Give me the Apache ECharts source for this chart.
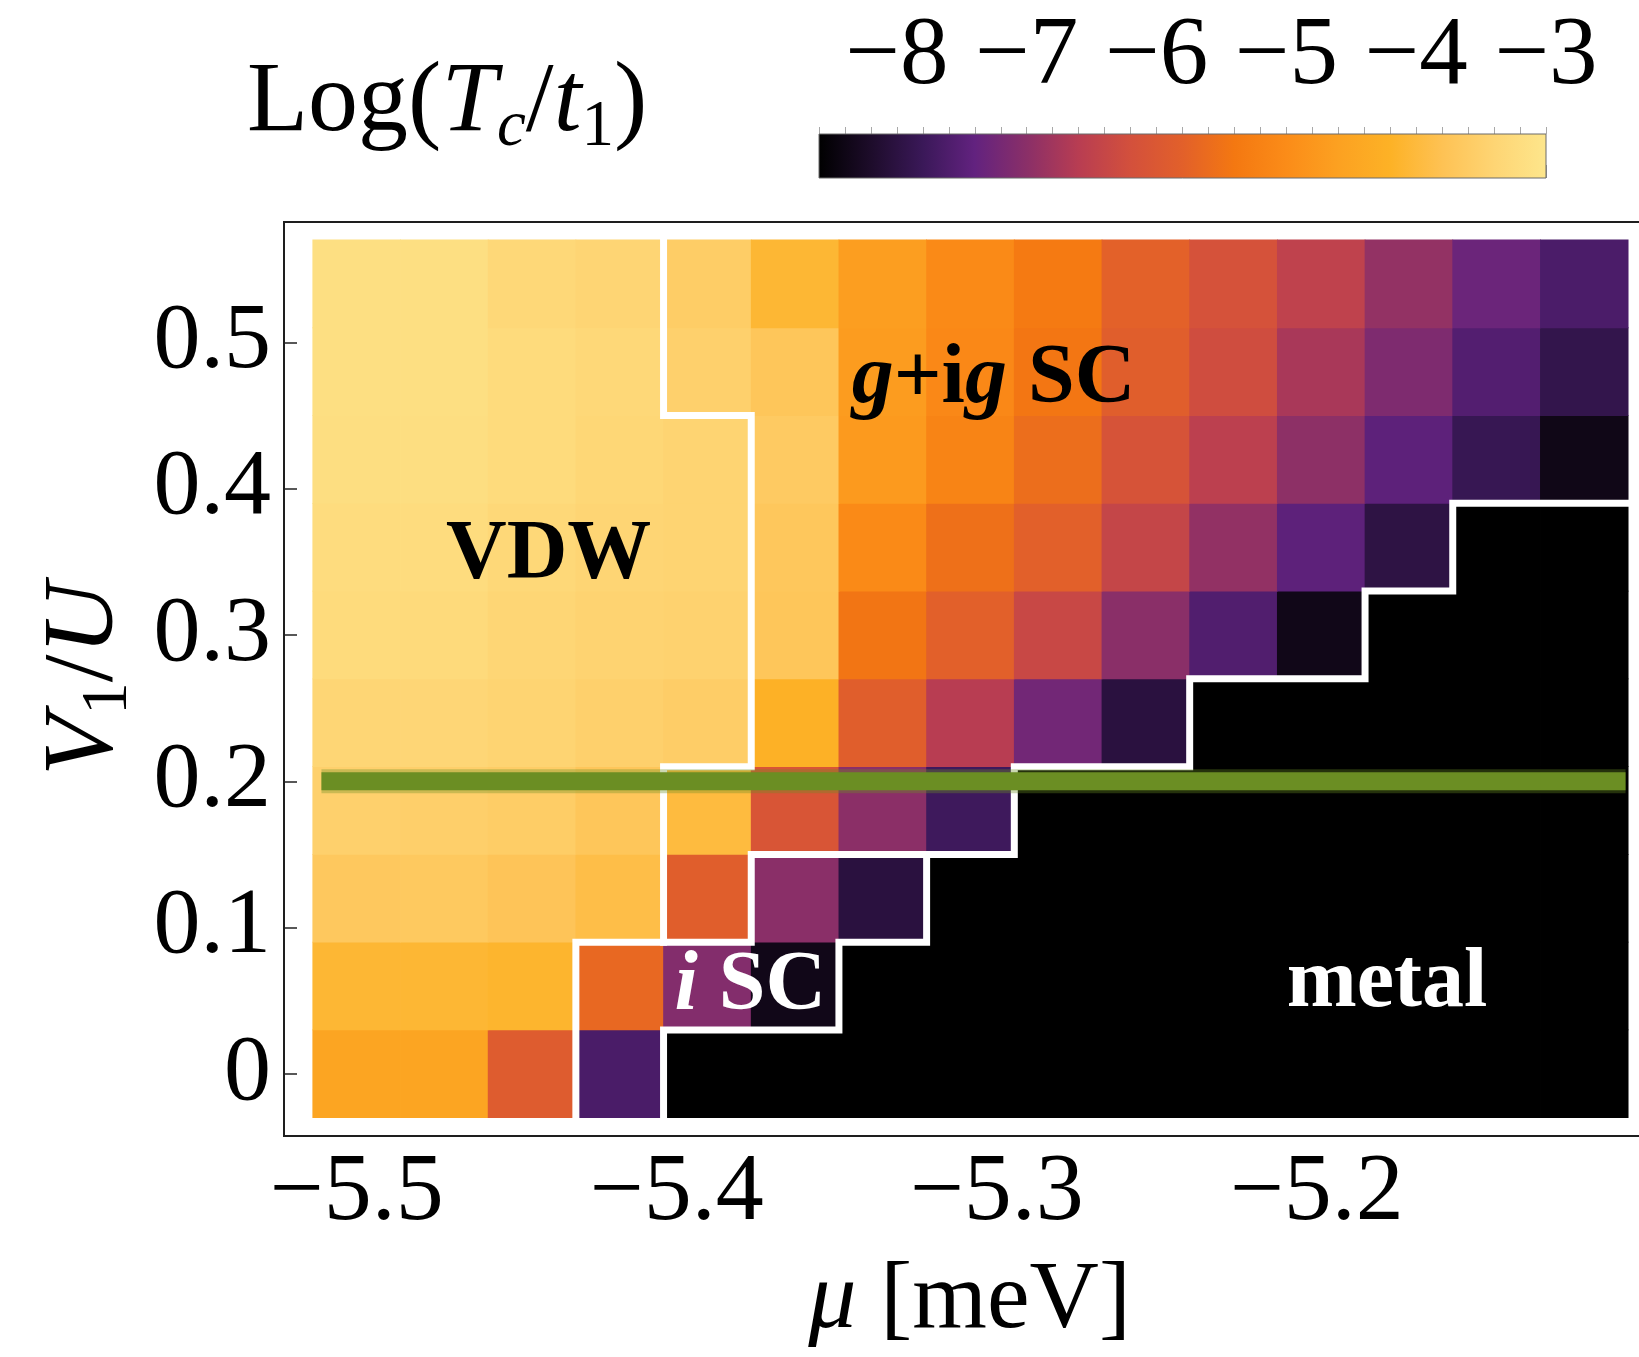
<!DOCTYPE html>
<html>
<head>
<meta charset="utf-8">
<script src="https://cdn.jsdelivr.net/npm/echarts@6/dist/echarts.min.js"></script>
<style>
  html, body { margin: 0; padding: 0; background: #ffffff; }
  #chart { width: 1639px; height: 1357px; }
</style>
</head>
<body>
<div id="chart"></div>
<script>
// ---- grid of the phase diagram ----
// chemical potential (cell centres, meV)
const mu = [-5.5, -5.4726, -5.4452, -5.4178, -5.3904, -5.363, -5.3356, -5.3082,
            -5.2808, -5.2534, -5.226, -5.1986, -5.1712, -5.1438, -5.1164];
// nearest-neighbour repulsion V1/U (cell centres)
const v1 = [0, 0.06, 0.12, 0.18, 0.24, 0.30, 0.36, 0.42, 0.48, 0.54];

// Log(Tc/t1) along mu for each V1/U; null = metal (no ordering)
const logTc_v000 = [-4.50, -4.50, -5.91, -7.64, null, null, null, null, null, null, null, null, null, null, null];
const logTc_v006 = [-4.08, -4.08, -4.13, -5.67, -7.07, -8.37, null, null, null, null, null, null, null, null, null];
const logTc_v012 = [-3.67, -3.66, -3.75, -3.90, -5.85, -7.00, -8.02, null, null, null, null, null, null, null, null];
const logTc_v018 = [-3.50, -3.52, -3.57, -3.72, -3.98, -6.07, -6.99, -7.76, null, null, null, null, null, null, null];
const logTc_v024 = [-3.38, -3.37, -3.42, -3.50, -3.56, -4.22, -5.85, -6.60, -7.24, -8.02, null, null, null, null, null];
const logTc_v030 = [-3.26, -3.28, -3.38, -3.44, -3.46, -3.72, -5.45, -5.80, -6.36, -7.00, -7.57, -8.37, null, null, null];
const logTc_v036 = [-3.24, -3.24, -3.33, -3.40, -3.42, -3.70, -5.04, -5.53, -5.80, -6.42, -6.93, -7.45, -7.97, null, null];
const logTc_v042 = [-3.19, -3.18, -3.26, -3.36, -3.42, -3.63, -4.73, -5.16, -5.57, -6.12, -6.54, -6.97, -7.45, -7.84, -8.38];
const logTc_v048 = [-3.16, -3.16, -3.26, -3.33, -3.50, -3.72, -4.70, -5.08, -5.43, -5.85, -6.26, -6.73, -7.12, -7.55, -7.90];
const logTc_v054 = [-3.16, -3.16, -3.33, -3.40, -3.57, -4.08, -4.66, -5.04, -5.36, -5.78, -6.15, -6.50, -6.92, -7.31, -7.63];
const logTcRows = [logTc_v000, logTc_v006, logTc_v012, logTc_v018, logTc_v024,
                   logTc_v030, logTc_v036, logTc_v042, logTc_v048, logTc_v054];

// phase boundaries, as [mu edge index, V1/U edge index] corners
const vdwEdge   = [[4, 10], [4, 8], [5, 8], [5, 4], [4, 4], [4, 2], [3, 2], [3, 0]];
const iscEdge   = [[4, 2], [5, 2], [5, 3], [7, 3]];
const metalEdge = [[4, 0], [4, 1], [6, 1], [6, 2], [7, 2], [7, 3], [8, 3], [8, 4], [10, 4],
                   [10, 5], [12, 5], [12, 6], [13, 6], [13, 7], [15, 7]];

// cut along V1/U = 0.2
const cutV = 0.2;
const cutMu = [-5.511, -5.1035];

// phase names and where they are written
const phaseNames = ['VDW', '{it|g}+i{it|g} SC', '{it|i} SC', 'metal'];
const phaseMu = [-5.440, -5.301, -5.377, -5.178];
const phaseV  = [0.354, 0.474, 0.059, 0.061];

// colour scale
const colorRange = [-8.6, -3];
const colorTicks = [-8, -7, -6, -5, -4, -3];
const logTcColors = ['#000000', '#1d0c2a', '#3a1858', '#62227f', '#8a2f68', '#b83d52', '#d3503c',
                     '#e2602a', '#f47811', '#fb8c18', '#fca121', '#fdb226', '#fec254', '#fed574', '#fde68c'];

// axis ticks
const muTicks = [-5.5, -5.4, -5.3, -5.2];
const vTicks = [0, 0.1, 0.2, 0.3, 0.4, 0.5];

// ---- build series data ----
const dMu = mu[1] - mu[0];
const dV = v1[1] - v1[0];
const cells = [];
const metalCells = [];
logTcRows.forEach((row, k) => {
  row.forEach((val, i) => {
    if (val === null) metalCells.push([mu[i], v1[k]]);
    else cells.push([mu[i], v1[k], val]);
  });
});
const edgeToData = path => path.map(([i, k]) => [mu[0] - dMu / 2 + i * dMu, v1[0] - dV / 2 + k * dV]);

const FONT = '"Liberation Serif", "Times New Roman", Times, serif';
const minus = s => String(s).replace('-', '\u2212');

function cellItem(params, api) {
  const x = api.value(0), y = api.value(1);
  const p0 = api.coord([x - dMu / 2, y + dV / 2]);
  const p1 = api.coord([x + dMu / 2, y - dV / 2]);
  return {
    type: 'rect',
    shape: { x: p0[0] - 0.4, y: p0[1] - 0.4, width: p1[0] - p0[0] + 0.8, height: p1[1] - p0[1] + 0.8 },
    style: { fill: api.visual('color') }
  };
}

const barGradient = new echarts.graphic.LinearGradient(0, 0, 1, 0,
  logTcColors.map((c, i) => ({ offset: i / (logTcColors.length - 1), color: c })));

function colorBarItem(params, api) {
  const p0 = api.coord([api.value(0), 1]);
  const p1 = api.coord([api.value(1), 0]);
  return {
    type: 'rect',
    shape: { x: p0[0], y: p0[1], width: p1[0] - p0[0], height: p1[1] - p0[1] },
    style: { fill: barGradient, stroke: '#6b6b6b', lineWidth: 1 }
  };
}

const boundaryStyle = { color: '#ffffff', width: 7, join: 'miter', cap: 'square' };
function boundarySeries(path) {
  return {
    type: 'line', xAxisIndex: 0, yAxisIndex: 0, data: edgeToData(path),
    showSymbol: false, symbol: 'none', silent: true, z: 3,
    lineStyle: boundaryStyle, emphasis: { disabled: true }
  };
}

const chart = echarts.init(document.getElementById('chart'), null, { renderer: 'canvas' });

const option = {
  animation: false,
  backgroundColor: '#ffffff',
  title: {
    text: '{n|Log(}{i|T}{s|c}{n|/}{i|t}{r|1}{n|)}',
    left: 247, top: 48, padding: 0,
    textStyle: {
      fontWeight: 'normal',
      rich: {
        n: { fontFamily: FONT, fontSize: 100, fontWeight: 'normal', color: '#000', lineHeight: 112 },
        i: { fontFamily: FONT, fontSize: 100, fontWeight: 'normal', fontStyle: 'italic', color: '#000', lineHeight: 112 },
        s: { fontFamily: FONT, fontSize: 65, fontWeight: 'normal', fontStyle: 'italic', color: '#000', lineHeight: 52, verticalAlign: 'bottom' },
        r: { fontFamily: FONT, fontSize: 65, fontWeight: 'normal', color: '#000', lineHeight: 52, verticalAlign: 'bottom' }
      }
    }
  },
  grid: [
    { left: 284, top: 222, width: 1371, height: 914, show: true, borderColor: '#1e1e1e', borderWidth: 2,
      backgroundColor: 'transparent', containLabel: false, outerBoundsMode: 'none' },
    { left: 819, top: 134, width: 727, height: 44, containLabel: false, outerBoundsMode: 'none' }
  ],
  xAxis: [
    {
      gridIndex: 0, type: 'value', min: -5.5227, max: -5.0943,
      name: '{i|\u03bc} [meV]', nameLocation: 'middle', nameGap: 109,
      nameTextStyle: {
        fontFamily: FONT, fontSize: 96, color: '#000', lineHeight: 110,
        rich: { i: { fontFamily: FONT, fontSize: 96, fontStyle: 'italic', color: '#000', lineHeight: 110 } }
      },
      axisLine: { show: false },
      axisTick: { show: true, inside: true, length: 13, customValues: muTicks, lineStyle: { color: '#222', width: 1.5 } },
      axisLabel: { customValues: muTicks, formatter: v => minus(v.toFixed(1)), fontFamily: FONT, fontSize: 96,
                   color: '#000', margin: 10, lineHeight: 96 },
      splitLine: { show: false }
    },
    {
      gridIndex: 1, type: 'value', min: colorRange[0], max: colorRange[1], position: 'top',
      axisLine: { show: false },
      axisTick: { show: true, length: 13, customValues: colorTicks, lineStyle: { color: '#9a9a9a', width: 1 } },
      axisLabel: { customValues: colorTicks, formatter: v => minus(v), fontFamily: FONT, fontSize: 97,
                   color: '#000', margin: 28, lineHeight: 97 },
      splitLine: { show: false }
    },
    {
      gridIndex: 1, type: 'value', min: colorRange[0], max: colorRange[1], interval: 0.2, position: 'top',
      axisLine: { show: false },
      axisTick: { show: true, length: 7, lineStyle: { color: '#a8a8a8', width: 1 } },
      axisLabel: { show: false },
      splitLine: { show: false }
    }
  ],
  yAxis: [
    {
      gridIndex: 0, type: 'value', min: -0.0425, max: 0.5823,
      name: '{i|V}{s|1}/{i|U}', nameLocation: 'middle', nameGap: 143,
      nameTextStyle: {
        fontFamily: FONT, fontSize: 100, color: '#000', lineHeight: 112,
        rich: {
          i: { fontFamily: FONT, fontSize: 100, fontStyle: 'italic', color: '#000', lineHeight: 112 },
          s: { fontFamily: FONT, fontSize: 65, color: '#000', lineHeight: 60, verticalAlign: 'bottom' }
        }
      },
      axisLine: { show: false },
      axisTick: { show: true, inside: true, length: 13, customValues: vTicks, lineStyle: { color: '#222', width: 1.5 } },
      axisLabel: { customValues: vTicks, formatter: v => (v === 0 ? '0' : v.toFixed(1)), fontFamily: FONT,
                   fontSize: 94, color: '#000', margin: 13 },
      splitLine: { show: false }
    },
    { gridIndex: 1, type: 'value', min: 0, max: 1, show: false }
  ],
  visualMap: {
    type: 'continuous', show: false, seriesIndex: 0, dimension: 2,
    min: colorRange[0], max: colorRange[1], inRange: { color: logTcColors }
  },
  series: [
    {
      name: 'Log(Tc/t1)', type: 'custom', xAxisIndex: 0, yAxisIndex: 0, data: cells,
      renderItem: cellItem, silent: true, z: 2
    },
    {
      name: 'metal', type: 'custom', xAxisIndex: 0, yAxisIndex: 0, data: metalCells,
      renderItem: cellItem, itemStyle: { color: '#000000' }, silent: true, z: 2
    },
    boundarySeries(vdwEdge),
    boundarySeries(iscEdge),
    boundarySeries(metalEdge),
    {
      name: 'cut halo', type: 'line', xAxisIndex: 0, yAxisIndex: 0,
      data: cutMu.map(m => [m, cutV]), showSymbol: false, symbol: 'none', silent: true, z: 4,
      lineStyle: { color: '#6b8e23', width: 24, opacity: 0.35, cap: 'butt' }
    },
    {
      name: 'cut', type: 'line', xAxisIndex: 0, yAxisIndex: 0,
      data: cutMu.map(m => [m, cutV]), showSymbol: false, symbol: 'none', silent: true, z: 4,
      lineStyle: { color: '#6b8e23', width: 18, cap: 'butt' }
    },
    {
      name: 'phases', type: 'scatter', xAxisIndex: 0, yAxisIndex: 0, symbolSize: 0, silent: true, z: 6,
      itemStyle: { opacity: 1 },
      data: phaseNames.map((n, i) => ({
        name: n, value: [phaseMu[i], phaseV[i]],
        label: { color: i < 2 ? '#000' : '#fff' }
      })),
      label: {
        show: true, position: 'inside', formatter: '{b}', fontFamily: FONT, fontSize: 84, fontWeight: 'bold',
        opacity: 1,
        rich: {
          it: { fontFamily: FONT, fontSize: 84, fontWeight: 'bold', fontStyle: 'italic' }
        }
      }
    },
    {
      name: 'colour bar', type: 'custom', xAxisIndex: 1, yAxisIndex: 1, data: [colorRange],
      renderItem: colorBarItem, silent: true, z: 2
    }
  ]
};

chart.setOption(option);
</script>
</body>
</html>
